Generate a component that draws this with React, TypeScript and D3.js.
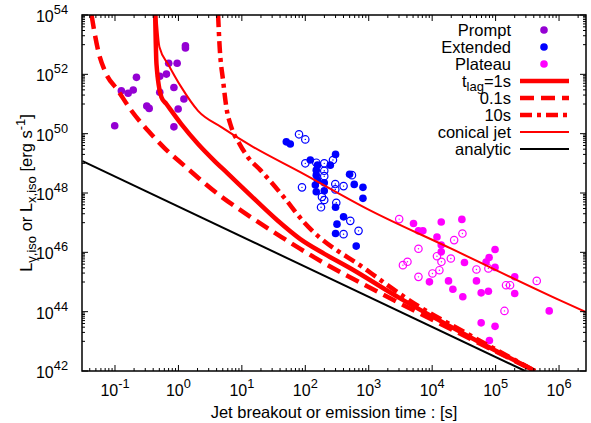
import * as d3 from "d3";

// log-log scatter: GRB luminosity vs time, with jet models
const W = 591;
const H = 423;
const M = { left: 82, right: 5, top: 15, bottom: 52 };

type P = [number, number];

const prompt: P[] = [
  [0.099, 1.85e50], [0.126, 2.8e51], [0.161, 2.3e51], [0.194, 2.95e51],
  [0.218, 7.9e51], [0.317, 8.5e50], [0.346, 7.1e50], [0.508, 8.6e51],
  [0.647, 1.02e52], [0.508, 2.5e51], [0.703, 2.35e52], [0.955, 2.35e52],
  [0.849, 3.6e51], [1.22, 1.47e51], [0.99, 6.8e50], [0.849, 1.7e50],
  [1.29, 9.2e52], [1.29, 7.7e52],
];

const extFilled: P[] = [
  [50.2, 5.3e49], [58, 4.5e49], [120, 1.29e49], [156, 8.7e48], [149, 5.9e48],
  [149, 4.0e48], [156, 2.7e48], [144, 1.85e48], [199, 2.2e48], [248, 8.7e48],
  [300, 2.0e49], [149, 1.1e48], [199, 1.18e48], [499, 4.3e48], [591, 1.95e48],
  [811, 1.55e48], [811, 6.6e47], [300, 3.3e47], [401, 1.57e47], [316, 8.9e46],
  [300, 4.3e46], [635, 1.62e46],
];

const extOpen: P[] = [
  [79.6, 9.5e49], [100, 6.4e49], [100, 1.0e49], [149, 1.05e49], [199, 1.0e49],
  [273, 1.29e49], [199, 5.6e48], [199, 3.7e48], [88.7, 1.55e48], [297, 2.0e48],
  [297, 1.32e48], [401, 1.71e48], [183, 7.4e47], [199, 5.8e47], [177, 3.3e47],
  [308, 4.7e47], [512, 1.15e47], [401, 4.1e46], [691, 5.3e46], [544, 4.0e48],
];

const platFilled: P[] = [
  [5080, 9.4e46], [6080, 5.3e46], [7140, 5.3e46], [1.39e4, 1.05e47],
  [2.94e4, 1.29e47], [1.19e4, 3.3e46], [1.39e4, 1.75e46], [1.39e4, 1.04e46],
  [3.23e4, 4.56e45], [9.8e4, 1.25e46], [7.9e4, 6.7e45], [7.08e4, 4.7e45],
  [9.8e4, 3.1e45], [9060, 1.01e45], [1.81e4, 1.09e45], [2.12e4, 5.7e44],
  [3.04e4, 3.2e44], [4.99e4, 1.09e45], [5.92e4, 4.3e44], [7.7e4, 4.9e44],
  [2.0e5, 1.49e45], [2.0e5, 4.1e44], [7.0e5, 1.06e44], [5.92e4, 4.2e43],
  [9.8e4, 3.2e43], [7.98e4, 1.07e43],
];

const platOpen: P[] = [
  [3020, 1.32e47], [6080, 1.32e46], [1.19e4, 7.4e45], [1.4e4, 4.8e45],
  [2.22e4, 2.58e46], [3.0e4, 4.3e46], [1.97e4, 6.2e45], [3460, 3.7e45],
  [4080, 4.8e45], [1.01e4, 1.94e45], [1.3e4, 2.5e45], [6080, 1.49e45],
  [4.99e4, 2.65e45], [7.7e4, 2.87e45], [1.46e5, 7.8e44], [1.69e5, 7.8e44],
  [4.45e5, 1.09e45], [1.38e5, 1.06e44],
];

const lag1: P[] = [
  [0.43, 1e54], [0.451, 2.2e52], [0.54, 1.7e51], [0.647, 1.0e51], [1.11, 2.1e50],
  [2.04, 4.5e49], [3.69, 1.22e49], [5.85, 4.8e48], [13.6, 8.5e47], [35.8, 1.23e47],
  [83.4, 2.8e46], [200, 8.9e45], [512, 2.9e45], [3130, 2.8e44], [3.97e4, 1.38e43],
  [4.19e5, 1e42],
];

const lag01: P[] = [
  [0.0427, 1e54], [0.048, 2.3e53], [0.0543, 6.3e52], [0.069, 1.32e52],
  [0.112, 2.8e51], [0.182, 5.9e50], [0.333, 1.25e50], [0.609, 3.2e49],
  [1.21, 8.7e48], [4.07, 9.7e47], [13.6, 1.58e47], [45.5, 2.95e46],
  [83.4, 1.3e46], [3130, 1.9e44], [3.97e4, 1.23e43], [4.19e5, 1e42],
];

const lag10: P[] = [
  [4.22, 1e54], [4.47, 8.1e52], [5.06, 6.1e51], [5.7, 7.7e50], [6.84, 1.63e50],
  [9.23, 4.47e49], [12.5, 1.59e49], [19.6, 5.9e48], [45.5, 7.4e47], [94, 1.07e47],
  [937, 2.5e45], [5740, 1.66e44], [3.52e4, 1.84e43], [4.19e5, 1e42],
];

const conical: P[] = [
  [0.45, 1e54], [0.502, 8.3e52], [0.689, 2.2e52], [1.11, 3.7e51], [2.04, 5.9e50],
  [4.75, 1.67e50], [14.1, 3.9e49], [83.4, 5.07e48], [1050, 2.6e47],
  [1.92e4, 1.38e46], [1.04e6, 2.4e44], [2.66e6, 9.6e43],
];

const analytic: P[] = [[0.0308, 1.19e49], [2.92e5, 1e42]];

const xTickExps = [-1, 0, 1, 2, 3, 4, 5, 6];
const yTickExps = [42, 44, 46, 48, 50, 52, 54];

const FONT = "'Liberation Sans', Arial, Helvetica, sans-serif";
const RED = "#ff0000";
const PURPLE = "#9400d3";
const BLUE = "#0000ff";
const MAGENTA = "#ff00ff";

export default function App() {
  const x = d3
    .scaleLog()
    .domain([Math.pow(10, -1.52), Math.pow(10, 6.425)])
    .range([M.left, W - M.right]);
  const y = d3
    .scaleLog()
    .domain([1e42, 1e54])
    .range([H - M.bottom, M.top]);

  const x0 = M.left;
  const x1 = W - M.right;
  const y0 = H - M.bottom;
  const y1 = M.top;

  const line = d3
    .line<P>()
    .x((d) => x(d[0]))
    .y((d) => y(d[1]))
    .curve(d3.curveMonotoneX);

  // minor ticks
  const xMinor: number[] = [];
  for (let e = -2; e <= 6; e++) {
    for (let k = 2; k <= 9; k++) {
      const v = k * Math.pow(10, e);
      if (v > x.domain()[0] && v < x.domain()[1]) xMinor.push(v);
    }
  }
  const yMinor: number[] = [];
  for (let e = 43; e <= 53; e += 2) {
    for (let k = 1; k <= 9; k++) yMinor.push(k * Math.pow(10, e));
  }

  const filled = (pts: P[], color: string, key: string) =>
    pts.map((d, i) => (
      <circle key={key + i} cx={x(d[0])} cy={y(d[1])} r={3.8} fill={color} />
    ));
  const open = (pts: P[], color: string, key: string) =>
    pts.map((d, i) => (
      <g key={key + i}>
        <circle cx={x(d[0])} cy={y(d[1])} r={3.7} fill="none" stroke={color} strokeWidth={1.2} />
        <circle cx={x(d[0])} cy={y(d[1])} r={0.7} fill={color} />
      </g>
    ));

  const legendX = 511;
  const legPts = [
    { label: "Prompt", color: PURPLE, cy: 30 },
    { label: "Extended", color: BLUE, cy: 47 },
    { label: "Plateau", color: MAGENTA, cy: 64 },
  ];
  const legLines = [
    { label: "lag", cy: 81, color: RED, w: 4.5, dash: "" },
    { label: "0.1s", cy: 98, color: RED, w: 4.5, dash: "14,7" },
    { label: "10s", cy: 115, color: RED, w: 4.5, dash: "12,5,4,5" },
    { label: "conical jet", cy: 132, color: RED, w: 2, dash: "" },
    { label: "analytic", cy: 149, color: "#000", w: 2, dash: "" },
  ];

  return (
    <svg width={W} height={H} style={{ display: "block", position: "absolute", left: 0, top: 0 }} fontFamily={FONT}>
      <rect width={W} height={H} fill="#fff" />
      <defs>
        <clipPath id="plot">
          <rect x={x0} y={y1} width={x1 - x0} height={y0 - y1} />
        </clipPath>
      </defs>

      <g clipPath="url(#plot)">
        {filled(prompt, PURPLE, "pr")}
        {filled(extFilled, BLUE, "ef")}
        {open(extOpen, BLUE, "eo")}
        {filled(platFilled, MAGENTA, "pf")}
        {open(platOpen, MAGENTA, "po")}

        <path d={line(analytic) ?? ""} fill="none" stroke="#000" strokeWidth={2} />
        <path d={line(conical) ?? ""} fill="none" stroke={RED} strokeWidth={2} />
        <path d={line(lag10) ?? ""} fill="none" stroke={RED} strokeWidth={4.5} strokeDasharray="12,5,4,5" />
        <path d={line(lag01) ?? ""} fill="none" stroke={RED} strokeWidth={4.5} strokeDasharray="14,7" />
        <path d={line(lag1) ?? ""} fill="none" stroke={RED} strokeWidth={4.5} />
      </g>

      {/* frame */}
      <rect x={x0} y={y1} width={x1 - x0} height={y0 - y1} fill="none" stroke="#000" strokeWidth={1.5} />

      {/* x ticks */}
      {xTickExps.map((e) => {
        const px = x(Math.pow(10, e));
        return (
          <g key={"xt" + e}>
            <line x1={px} x2={px} y1={y0} y2={y0 - 6} stroke="#000" />
            <line x1={px} x2={px} y1={y1} y2={y1 + 6} stroke="#000" />
            <text x={px} y={396} textAnchor="middle" fontSize={16}>
              10<tspan dy={-8} fontSize={12.8}>{e}</tspan>
            </text>
          </g>
        );
      })}
      {xMinor.map((v, i) => {
        const px = x(v);
        return (
          <g key={"xm" + i}>
            <line x1={px} x2={px} y1={y0} y2={y0 - 3} stroke="#000" />
            <line x1={px} x2={px} y1={y1} y2={y1 + 3} stroke="#000" />
          </g>
        );
      })}

      {/* y ticks */}
      {yTickExps.map((e) => {
        const py = y(Math.pow(10, e));
        return (
          <g key={"yt" + e}>
            <line x1={x0} x2={x0 + 6} y1={py} y2={py} stroke="#000" />
            <line x1={x1} x2={x1 - 6} y1={py} y2={py} stroke="#000" />
            <text x={68} y={py + 7} textAnchor="end" fontSize={16}>
              10<tspan dy={-8} fontSize={12.8}>{e}</tspan>
            </text>
          </g>
        );
      })}
      {yMinor.map((v, i) => {
        const py = y(v);
        return (
          <g key={"ym" + i}>
            <line x1={x0} x2={x0 + 3} y1={py} y2={py} stroke="#000" />
            <line x1={x1} x2={x1 - 3} y1={py} y2={py} stroke="#000" />
          </g>
        );
      })}

      {/* axis titles */}
      <text x={(x0 + x1) / 2} y={418} textAnchor="middle" fontSize={16.5}>
        Jet breakout or emission time : [s]
      </text>
      <text transform={`translate(32,${(y0 + y1) / 2}) rotate(-90)`} textAnchor="middle" fontSize={16.5}>
        L<tspan dy={4} fontSize={13}>γ,iso</tspan>
        <tspan dy={-4}> or L</tspan>
        <tspan dy={4} fontSize={13}>x,iso</tspan>
        <tspan dy={-4}> [erg s</tspan>
        <tspan dy={-7} fontSize={13}>-1</tspan>
        <tspan dy={7}>]</tspan>
      </text>

      {/* legend */}
      {legPts.map((d) => (
        <g key={d.label}>
          <text x={legendX} y={d.cy + 6} textAnchor="end" fontSize={16.5}>{d.label}</text>
          <circle cx={544} cy={d.cy} r={3.8} fill={d.color} />
        </g>
      ))}
      {legLines.map((d) => (
        <g key={d.label}>
          {d.label === "lag" ? (
            <text x={legendX} y={d.cy + 6} textAnchor="end" fontSize={16.5}>
              t<tspan dy={4} fontSize={13}>lag</tspan>
              <tspan dy={-4}>=1s</tspan>
            </text>
          ) : (
            <text x={legendX} y={d.cy + 6} textAnchor="end" fontSize={16.5}>{d.label}</text>
          )}
          <line x1={520} x2={569} y1={d.cy} y2={d.cy} stroke={d.color} strokeWidth={d.w} strokeDasharray={d.dash || undefined} />
        </g>
      ))}
    </svg>
  );
}
